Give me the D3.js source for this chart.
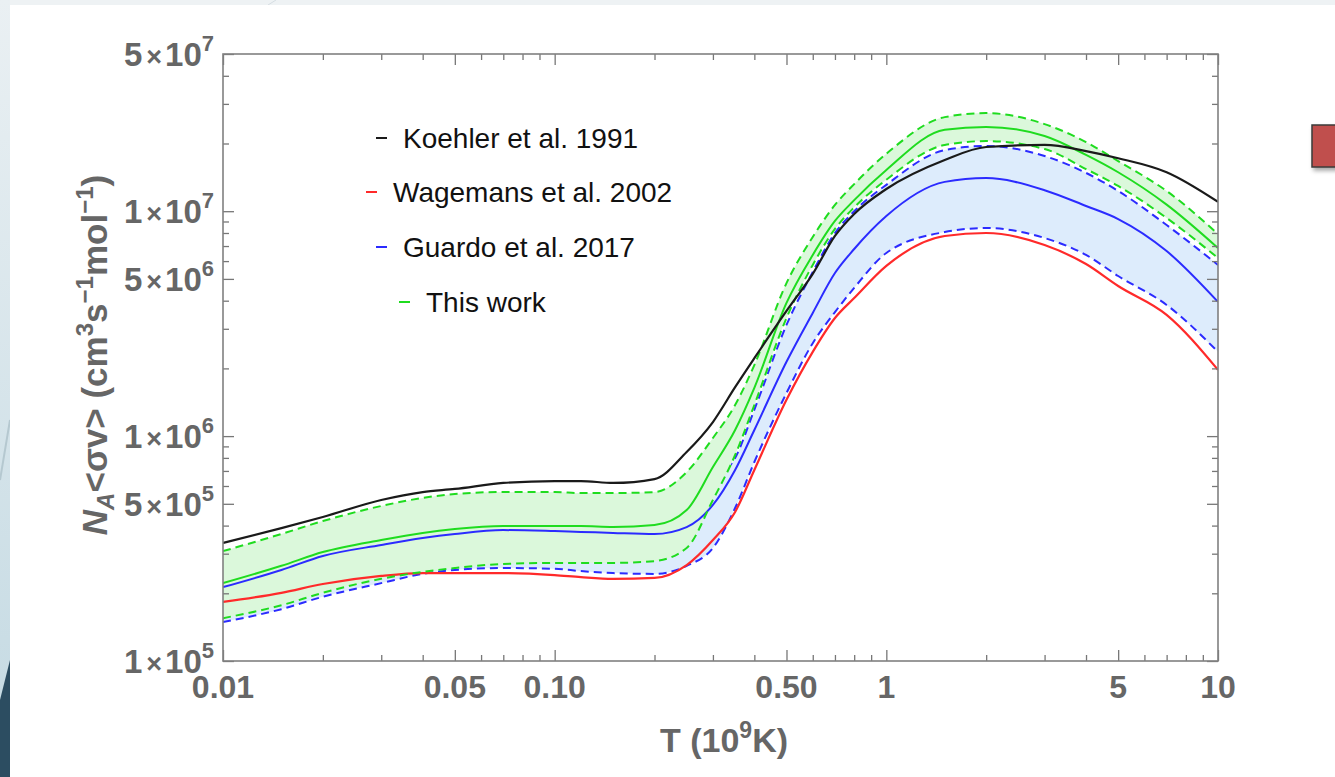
<!DOCTYPE html>
<html>
<head>
<meta charset="utf-8">
<script src="https://cdn.jsdelivr.net/npm/d3@7"></script>
<style>
  html, body { margin: 0; padding: 0; background: #eef2f4; }
  svg { display: block; }
  .tick-label { font-family: "Liberation Sans", Arial, sans-serif; font-weight: bold; fill: #666; }
  .legend text { font-family: "Liberation Sans", Arial, sans-serif; font-size: 28px; fill: #111; }
</style>
</head>
<body>
<svg id="chart" width="1335" height="777"></svg>
<script>
// temperatures (GK) where the curves were read
const temps = [0.01, 0.015, 0.02, 0.03, 0.04, 0.05, 0.07, 0.1, 0.12, 0.15, 0.2, 0.25, 0.3, 0.35,
    0.4, 0.5, 0.6, 0.7, 0.8, 1, 1.5, 2, 3, 4, 5, 7, 10]

const koehler = [3.35e5, 3.90e5, 4.37e5, 5.20e5, 5.64e5, 5.82e5, 6.19e5, 6.31e5, 6.31e5, 6.19e5, 6.44e5, 8.50e5, 1.155e6, 1.65e6,
    2.22e6, 3.60e6, 5.26e6, 7.76e6, 9.72e6, 1.255e7, 1.69e7, 1.93e7, 1.97e7, 1.85e7, 1.72e7, 1.49e7, 1.10e7]
const wagemans = [1.83e5, 2.01e5, 2.20e5, 2.39e5, 2.46e5, 2.46e5, 2.46e5, 2.41e5, 2.36e5, 2.32e5, 2.34e5, 2.67e5, 3.45e5, 4.60e5,
    7.07e5, 1.45e6, 2.37e6, 3.35e6, 4.11e6, 5.71e6, 7.76e6, 8.00e6, 7.07e6, 5.82e6, 4.65e6, 3.46e6, 1.97e6]
const guardo = [2.13e5, 2.54e5, 2.93e5, 3.28e5, 3.52e5, 3.67e5, 3.82e5, 3.78e5, 3.75e5, 3.71e5, 3.67e5, 3.94e5, 4.94e5, 7.07e5,
    1.065e6, 2.14e6, 3.53e6, 5.31e6, 6.79e6, 9.52e6, 1.35e7, 1.405e7, 1.24e7, 1.055e7, 9.23e6, 6.65e6, 3.95e6]
const guardoLow = [1.49e5, 1.70e5, 1.93e5, 2.22e5, 2.44e5, 2.54e5, 2.59e5, 2.57e5, 2.51e5, 2.46e5, 2.44e5, 2.65e5, 3.18e5, 4.79e5,
    7.67e5, 1.555e6, 2.59e6, 3.56e6, 4.56e6, 6.52e6, 8.08e6, 8.42e6, 7.60e6, 6.39e6, 5.15e6, 3.83e6, 2.37e6]
const guardoHigh = [2.90e5, 3.45e5, 3.98e5, 4.46e5, 4.79e5, 4.99e5, 5.20e5, 5.15e5, 5.09e5, 5.04e5, 4.99e5, 5.47e5, 6.38e5, 7.99e5,
    1.31e6, 3.12e6, 5.37e6, 8.00e6, 1.00e7, 1.31e7, 1.87e7, 1.95e7, 1.76e7, 1.48e7, 1.23e7, 8.68e6, 5.77e6]
const thisWork = [2.22e5, 2.65e5, 3.05e5, 3.45e5, 3.71e5, 3.86e5, 3.98e5, 3.98e5, 3.98e5, 3.94e5, 4.02e5, 4.69e5, 7.29e5, 1.065e6,
    1.64e6, 3.91e6, 6.39e6, 9.05e6, 1.12e7, 1.525e7, 2.30e7, 2.37e7, 2.16e7, 1.78e7, 1.49e7, 1.07e7, 6.86e6]
const thisWorkLow = [1.55e5, 1.77e5, 2.01e5, 2.32e5, 2.49e5, 2.59e5, 2.70e5, 2.73e5, 2.73e5, 2.73e5, 2.78e5, 3.18e5, 5.20e5, 8.24e5,
    1.375e6, 3.35e6, 5.77e6, 8.34e6, 1.04e7, 1.38e7, 1.97e7, 2.05e7, 1.89e7, 1.54e7, 1.295e7, 9.33e6, 6.19e6]
const thisWorkHigh = [3.08e5, 3.67e5, 4.19e5, 4.89e5, 5.31e5, 5.53e5, 5.64e5, 5.64e5, 5.58e5, 5.58e5, 5.64e5, 6.92e5, 9.81e5, 1.375e6,
    2.07e6, 4.79e6, 7.68e6, 1.066e7, 1.32e7, 1.80e7, 2.62e7, 2.73e7, 2.44e7, 2.03e7, 1.67e7, 1.23e7, 7.92e6]

const xMajor = [0.01, 0.05, 0.1, 0.5, 1, 5, 10]
const xMajorLabels = ['0.01', '0.05', '0.10', '0.50', '1', '5', '10']
const yMajor = [1e5, 5e5, 1e6, 5e6, 1e7, 5e7]
const yMajorLabels = [['1', '5'], ['5', '5'], ['1', '6'], ['5', '6'], ['1', '7'], ['5', '7']]

const legendNames = ['Koehler et al. 1991', 'Wagemans et al. 2002', 'Guardo et al. 2017', 'This work']
const legendColors = ['#1a1a1a', '#ff2a2a', '#2b2bff', '#1fdc1f']

const width = 1335
const height = 777
const plot = { left: 223, right: 1218, top: 54, bottom: 661 }

const svg = d3.select('#chart')

// slide-like backdrop
const defs = svg.append('defs')
const grad = defs.append('linearGradient').attr('id', 'strip').attr('x1', 0).attr('y1', 0).attr('x2', 0).attr('y2', 1)
grad.append('stop').attr('offset', '0%').attr('stop-color', '#eaf0f3')
grad.append('stop').attr('offset', '100%').attr('stop-color', '#c3d9e2')
const shadow = defs.append('filter').attr('id', 'shadow').attr('x', '-20%').attr('y', '-20%').attr('width', '150%').attr('height', '160%')
shadow.append('feDropShadow').attr('dx', 2).attr('dy', 3).attr('stdDeviation', 2).attr('flood-opacity', 0.35)

svg.append('rect').attr('width', width).attr('height', height).attr('fill', '#eef2f4')
svg.append('rect').attr('width', 10).attr('height', height).attr('fill', 'url(#strip)')
svg.append('path').attr('d', 'M0,700 L10,660 L10,777 L0,777 Z').attr('fill', '#2c4d61')
svg.append('path').attr('d', 'M0,480 L10,420').attr('stroke', '#b5c8d0').attr('stroke-width', 2)
svg.append('path').attr('d', 'M268,5 L276,0').attr('stroke', '#d5dde2').attr('stroke-width', 1)
svg.append('rect').attr('x', 10).attr('y', 5).attr('width', width - 10).attr('height', height - 5).attr('fill', '#fff')

svg.append('rect')
    .attr('x', 1312).attr('y', 125).attr('width', 40).attr('height', 42)
    .attr('fill', '#c0504d').attr('stroke', '#3a3a3a').attr('stroke-width', 1.5)
    .attr('filter', 'url(#shadow)')

const x = d3.scaleLog().domain([0.01, 10]).range([plot.left, plot.right])
const y = d3.scaleLog().domain([1e5, 5e7]).range([plot.bottom, plot.top])

const isMajor = (list) => (t) => list.some((m) => Math.abs(m - t) / m < 1e-6)
const xMinor = x.ticks().filter((t) => !isMajor(xMajor)(t))
const yMinor = y.ticks().filter((t) => !isMajor(yMajor)(t))

const idx = temps.map((d, i) => i)
const line = (vals) => d3.line()
    .x((i) => x(temps[i]))
    .y((i) => y(vals[i]))
    .curve(d3.curveMonotoneX)(idx)
const band = (lo, hi) => d3.area()
    .x((i) => x(temps[i]))
    .y0((i) => y(lo[i]))
    .y1((i) => y(hi[i]))
    .curve(d3.curveMonotoneX)(idx)

const g = svg.append('g')
svg.append('clipPath').attr('id', 'clip').append('rect')
    .attr('x', plot.left).attr('y', plot.top)
    .attr('width', plot.right - plot.left).attr('height', plot.bottom - plot.top)
g.attr('clip-path', 'url(#clip)')

const dash = '8,5'
g.append('path').attr('d', band(guardoLow, guardoHigh)).attr('fill', '#ddecfc')
g.append('path').attr('d', line(guardoHigh)).attr('fill', 'none')
    .attr('stroke', legendColors[2]).attr('stroke-width', 2).attr('stroke-dasharray', dash)
g.append('path').attr('d', band(thisWorkLow, thisWorkHigh)).attr('fill', '#dbf8db')
g.append('path').attr('d', line(guardoLow)).attr('fill', 'none')
    .attr('stroke', legendColors[2]).attr('stroke-width', 2).attr('stroke-dasharray', dash)
g.append('path').attr('d', line(guardo)).attr('fill', 'none')
    .attr('stroke', legendColors[2]).attr('stroke-width', 2)
g.append('path').attr('d', line(wagemans)).attr('fill', 'none')
    .attr('stroke', legendColors[1]).attr('stroke-width', 2.2)
g.append('path').attr('d', line(thisWorkLow)).attr('fill', 'none')
    .attr('stroke', legendColors[3]).attr('stroke-width', 2).attr('stroke-dasharray', dash)
g.append('path').attr('d', line(thisWorkHigh)).attr('fill', 'none')
    .attr('stroke', legendColors[3]).attr('stroke-width', 2).attr('stroke-dasharray', dash)
g.append('path').attr('d', line(thisWork)).attr('fill', 'none')
    .attr('stroke', legendColors[3]).attr('stroke-width', 2)
g.append('path').attr('d', line(koehler)).attr('fill', 'none')
    .attr('stroke', legendColors[0]).attr('stroke-width', 2.2)

// frame and inward ticks on all four sides
const axisStyle = (sel) => {
    sel.select('.domain').remove()
    sel.selectAll('line').attr('stroke', '#777').attr('stroke-width', 1.3)
}
const addAxis = (axis, tx, ty) => svg.append('g').attr('transform', `translate(${tx},${ty})`).call(axis).call(axisStyle)

addAxis(d3.axisBottom(x).tickValues(xMajor).tickSize(-11).tickFormat(''), 0, plot.bottom)
addAxis(d3.axisBottom(x).tickValues(xMinor).tickSize(-6).tickFormat(''), 0, plot.bottom)
addAxis(d3.axisTop(x).tickValues(xMajor).tickSize(-11).tickFormat(''), 0, plot.top)
addAxis(d3.axisTop(x).tickValues(xMinor).tickSize(-6).tickFormat(''), 0, plot.top)
addAxis(d3.axisLeft(y).tickValues(yMajor).tickSize(-11).tickFormat(''), plot.left, 0)
addAxis(d3.axisLeft(y).tickValues(yMinor).tickSize(-6).tickFormat(''), plot.left, 0)
addAxis(d3.axisRight(y).tickValues(yMajor).tickSize(-11).tickFormat(''), plot.right, 0)
addAxis(d3.axisRight(y).tickValues(yMinor).tickSize(-6).tickFormat(''), plot.right, 0)

svg.append('rect')
    .attr('x', plot.left).attr('y', plot.top)
    .attr('width', plot.right - plot.left).attr('height', plot.bottom - plot.top)
    .attr('fill', 'none').attr('stroke', '#808080').attr('stroke-width', 1.6)

// tick labels
svg.append('g').selectAll('text')
    .data(xMajor)
    .join('text')
    .attr('class', 'tick-label')
    .attr('x', (d) => x(d))
    .attr('y', plot.bottom + 37)
    .attr('text-anchor', 'middle')
    .attr('font-size', 32)
    .text((d, i) => xMajorLabels[i])

const yl = svg.append('g').selectAll('text')
    .data(yMajor)
    .join('text')
    .attr('class', 'tick-label')
    .attr('x', plot.left - 9)
    .attr('y', (d) => y(d) + 12)
    .attr('text-anchor', 'end')
    .attr('font-size', 33)
yl.append('tspan').text((d, i) => yMajorLabels[i][0])
yl.append('tspan').attr('font-size', 27).attr('dx', 4).text('×')
yl.append('tspan').attr('dx', 3).text('10')
yl.append('tspan').attr('font-size', 22).attr('dy', -15).text((d, i) => yMajorLabels[i][1])

// axis titles
const xt = svg.append('text').attr('class', 'tick-label')
    .attr('x', 724).attr('y', 752).attr('text-anchor', 'middle').attr('font-size', 34)
xt.append('tspan').text('T (10')
xt.append('tspan').attr('font-size', 23).attr('dy', -14).text('9')
xt.append('tspan').attr('dy', 14).text('K)')

const yt = svg.append('text').attr('class', 'tick-label')
    .attr('transform', 'translate(107,355) rotate(-90)')
    .attr('text-anchor', 'middle').attr('font-size', 35)
yt.append('tspan').attr('font-style', 'italic').text('N')
yt.append('tspan').attr('font-style', 'italic').attr('font-size', 24).attr('dy', 7).text('A')
yt.append('tspan').attr('dy', -7).text('<σv> (cm')
yt.append('tspan').attr('font-size', 24).attr('dy', -14).text('3')
yt.append('tspan').attr('dy', 14).text('s')
yt.append('tspan').attr('font-size', 24).attr('dy', -14).text('−1')
yt.append('tspan').attr('dy', 14).text('mol')
yt.append('tspan').attr('font-size', 24).attr('dy', -14).text('−1')
yt.append('tspan').attr('dy', 14).text(')')

// legend
const legendX = [376, 366, 376, 399]
const legendY = [138, 192, 247, 302]
const leg = svg.append('g').attr('class', 'legend').selectAll('g')
    .data(legendNames)
    .join('g')
    .attr('transform', (d, i) => `translate(${legendX[i]},${legendY[i]})`)
leg.append('line').attr('x1', 0).attr('x2', 11).attr('y1', 0).attr('y2', 0)
    .attr('stroke', (d, i) => legendColors[i]).attr('stroke-width', 2)
leg.append('text').attr('x', 27).attr('y', 10).text((d) => d)
</script>
</body>
</html>
